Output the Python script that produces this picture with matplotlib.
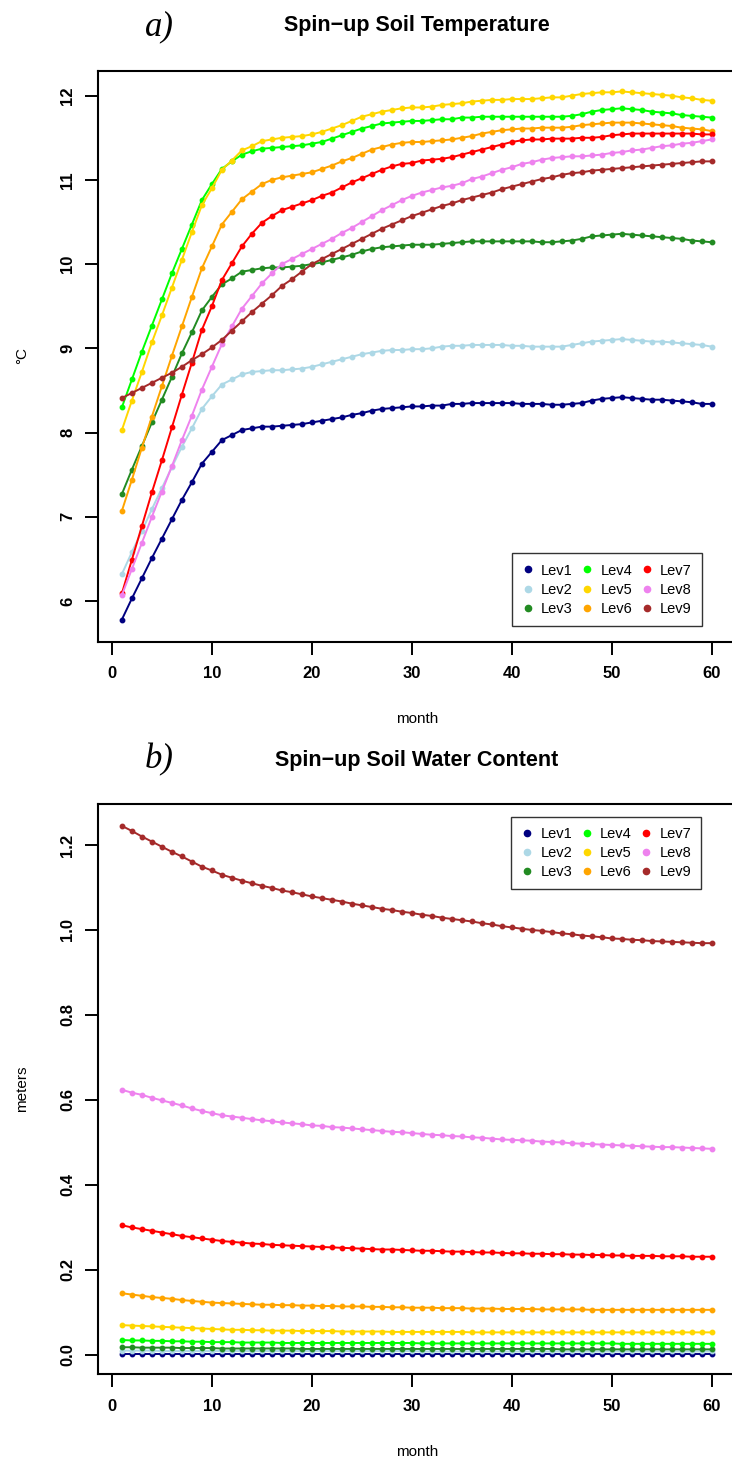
import matplotlib
matplotlib.use("Agg")
import matplotlib.pyplot as plt
from matplotlib.lines import Line2D

plt.rcParams['font.family'] = ['Liberation Sans', 'DejaVu Sans']

month = list(range(1, 61))
levels = ["Lev1", "Lev2", "Lev3", "Lev4", "Lev5", "Lev6", "Lev7", "Lev8", "Lev9"]
colors = ["#000080", "#ADD8E6", "#228B22", "#00FF00", "#FFD700", "#FFA500", "#FF0000", "#EE82EE", "#A52A2A"]

# ---- soil temperature (deg C) ----
temp_lev1 = [5.78, 6.03, 6.27, 6.51, 6.74, 6.97, 7.20, 7.41, 7.63, 7.77,
             7.91, 7.97, 8.03, 8.05, 8.07, 8.07, 8.08, 8.09, 8.10, 8.12,
             8.14, 8.16, 8.18, 8.21, 8.23, 8.26, 8.28, 8.29, 8.30, 8.31,
             8.31, 8.32, 8.32, 8.34, 8.34, 8.35, 8.35, 8.35, 8.35, 8.35,
             8.34, 8.34, 8.34, 8.33, 8.33, 8.34, 8.35, 8.38, 8.40, 8.41,
             8.42, 8.41, 8.40, 8.39, 8.39, 8.38, 8.37, 8.36, 8.34, 8.34]
temp_lev2 = [6.32, 6.58, 6.83, 7.09, 7.34, 7.59, 7.83, 8.05, 8.28, 8.43,
             8.57, 8.63, 8.69, 8.72, 8.73, 8.74, 8.74, 8.75, 8.76, 8.78,
             8.81, 8.84, 8.87, 8.90, 8.93, 8.95, 8.97, 8.98, 8.98, 8.99,
             8.99, 9.00, 9.02, 9.03, 9.03, 9.04, 9.04, 9.04, 9.04, 9.03,
             9.03, 9.02, 9.02, 9.02, 9.02, 9.04, 9.06, 9.08, 9.09, 9.10,
             9.11, 9.10, 9.09, 9.08, 9.08, 9.07, 9.06, 9.05, 9.04, 9.02]
temp_lev3 = [7.27, 7.56, 7.84, 8.12, 8.39, 8.66, 8.94, 9.19, 9.45, 9.61,
             9.76, 9.83, 9.91, 9.93, 9.95, 9.96, 9.96, 9.97, 9.98, 10.00,
             10.02, 10.05, 10.08, 10.11, 10.15, 10.18, 10.20, 10.21, 10.22, 10.23,
             10.23, 10.23, 10.24, 10.25, 10.26, 10.27, 10.27, 10.27, 10.27, 10.27,
             10.27, 10.27, 10.26, 10.26, 10.27, 10.28, 10.30, 10.33, 10.34, 10.35,
             10.36, 10.35, 10.34, 10.33, 10.32, 10.31, 10.30, 10.28, 10.27, 10.26]
temp_lev4 = [8.30, 8.63, 8.96, 9.27, 9.58, 9.89, 10.18, 10.47, 10.76, 10.95,
             11.13, 11.22, 11.30, 11.34, 11.37, 11.38, 11.39, 11.40, 11.41, 11.43,
             11.45, 11.49, 11.53, 11.57, 11.61, 11.64, 11.67, 11.68, 11.69, 11.70,
             11.70, 11.71, 11.72, 11.72, 11.74, 11.74, 11.75, 11.75, 11.75, 11.75,
             11.75, 11.75, 11.75, 11.75, 11.75, 11.76, 11.78, 11.81, 11.83, 11.84,
             11.85, 11.84, 11.83, 11.81, 11.80, 11.79, 11.77, 11.76, 11.75, 11.74]
temp_lev5 = [8.03, 8.38, 8.72, 9.07, 9.39, 9.72, 10.05, 10.38, 10.70, 10.90,
             11.12, 11.23, 11.35, 11.40, 11.46, 11.48, 11.50, 11.51, 11.52, 11.54,
             11.57, 11.61, 11.65, 11.70, 11.75, 11.78, 11.81, 11.83, 11.85, 11.86,
             11.86, 11.87, 11.89, 11.90, 11.91, 11.93, 11.94, 11.95, 11.95, 11.96,
             11.96, 11.96, 11.97, 11.98, 11.98, 12.00, 12.02, 12.03, 12.04, 12.04,
             12.05, 12.04, 12.03, 12.02, 12.01, 12.00, 11.98, 11.97, 11.95, 11.94]
temp_lev6 = [7.07, 7.44, 7.82, 8.19, 8.55, 8.91, 9.26, 9.61, 9.95, 10.21,
             10.47, 10.62, 10.77, 10.86, 10.95, 11.00, 11.03, 11.05, 11.07, 11.09,
             11.13, 11.17, 11.22, 11.26, 11.31, 11.36, 11.39, 11.42, 11.44, 11.45,
             11.45, 11.46, 11.47, 11.48, 11.50, 11.52, 11.55, 11.57, 11.59, 11.60,
             11.61, 11.61, 11.62, 11.62, 11.62, 11.63, 11.65, 11.66, 11.67, 11.68,
             11.68, 11.68, 11.67, 11.66, 11.65, 11.64, 11.62, 11.61, 11.60, 11.58]
temp_lev7 = [6.09, 6.49, 6.89, 7.29, 7.67, 8.06, 8.45, 8.83, 9.22, 9.50,
             9.81, 10.01, 10.21, 10.36, 10.49, 10.57, 10.64, 10.68, 10.72, 10.76,
             10.81, 10.85, 10.91, 10.97, 11.02, 11.07, 11.12, 11.16, 11.19, 11.20,
             11.23, 11.24, 11.25, 11.27, 11.30, 11.33, 11.36, 11.39, 11.42, 11.45,
             11.47, 11.48, 11.48, 11.49, 11.49, 11.49, 11.50, 11.50, 11.51, 11.53,
             11.54, 11.55, 11.55, 11.55, 11.55, 11.55, 11.55, 11.55, 11.54, 11.54]
temp_lev8 = [6.07, 6.38, 6.69, 7.00, 7.30, 7.60, 7.91, 8.20, 8.51, 8.78,
             9.05, 9.26, 9.47, 9.62, 9.77, 9.89, 10.00, 10.06, 10.12, 10.18,
             10.24, 10.30, 10.37, 10.43, 10.50, 10.57, 10.64, 10.70, 10.76, 10.81,
             10.85, 10.88, 10.91, 10.93, 10.96, 11.01, 11.04, 11.08, 11.12, 11.15,
             11.19, 11.21, 11.24, 11.26, 11.27, 11.28, 11.28, 11.29, 11.30, 11.32,
             11.33, 11.35, 11.36, 11.38, 11.40, 11.41, 11.43, 11.44, 11.46, 11.48]
temp_lev9 = [8.41, 8.47, 8.53, 8.59, 8.65, 8.71, 8.78, 8.86, 8.93, 9.01,
             9.10, 9.21, 9.32, 9.43, 9.53, 9.63, 9.74, 9.82, 9.91, 10.00,
             10.06, 10.12, 10.18, 10.24, 10.30, 10.36, 10.42, 10.47, 10.52, 10.57,
             10.61, 10.65, 10.69, 10.72, 10.76, 10.79, 10.82, 10.85, 10.89, 10.92,
             10.95, 10.98, 11.01, 11.03, 11.06, 11.08, 11.09, 11.11, 11.12, 11.13,
             11.14, 11.15, 11.16, 11.17, 11.18, 11.19, 11.20, 11.21, 11.22, 11.22]

# ---- soil water content (meters) ----
water_lev1 = [0.002, 0.002, 0.002, 0.002, 0.002, 0.002, 0.002, 0.002, 0.002, 0.002,
              0.002, 0.002, 0.002, 0.002, 0.002, 0.002, 0.002, 0.002, 0.002, 0.002,
              0.002, 0.002, 0.002, 0.002, 0.002, 0.002, 0.002, 0.002, 0.002, 0.002,
              0.002, 0.002, 0.002, 0.002, 0.002, 0.002, 0.002, 0.002, 0.002, 0.002,
              0.002, 0.002, 0.002, 0.002, 0.002, 0.002, 0.002, 0.002, 0.002, 0.002,
              0.002, 0.002, 0.002, 0.002, 0.002, 0.002, 0.002, 0.002, 0.002, 0.002]
water_lev2 = [0.010, 0.010, 0.010, 0.010, 0.009, 0.009, 0.009, 0.009, 0.009, 0.009,
              0.009, 0.009, 0.009, 0.009, 0.009, 0.009, 0.009, 0.009, 0.009, 0.009,
              0.009, 0.009, 0.009, 0.009, 0.009, 0.009, 0.009, 0.009, 0.009, 0.009,
              0.008, 0.008, 0.008, 0.008, 0.008, 0.008, 0.008, 0.008, 0.008, 0.008,
              0.008, 0.008, 0.008, 0.008, 0.008, 0.008, 0.008, 0.008, 0.008, 0.008,
              0.008, 0.008, 0.008, 0.008, 0.008, 0.008, 0.008, 0.008, 0.008, 0.008]
water_lev3 = [0.018, 0.018, 0.017, 0.017, 0.017, 0.017, 0.016, 0.016, 0.016, 0.016,
              0.015, 0.015, 0.015, 0.015, 0.015, 0.015, 0.015, 0.015, 0.014, 0.014,
              0.014, 0.014, 0.014, 0.014, 0.014, 0.014, 0.014, 0.014, 0.014, 0.014,
              0.014, 0.014, 0.014, 0.014, 0.014, 0.014, 0.014, 0.014, 0.014, 0.014,
              0.014, 0.014, 0.014, 0.014, 0.013, 0.013, 0.013, 0.013, 0.013, 0.013,
              0.013, 0.013, 0.013, 0.013, 0.013, 0.013, 0.013, 0.013, 0.013, 0.013]
water_lev4 = [0.035, 0.034, 0.034, 0.033, 0.033, 0.032, 0.032, 0.031, 0.031, 0.030,
              0.030, 0.030, 0.029, 0.029, 0.029, 0.029, 0.028, 0.028, 0.028, 0.028,
              0.028, 0.028, 0.028, 0.028, 0.028, 0.028, 0.028, 0.028, 0.028, 0.028,
              0.027, 0.027, 0.027, 0.027, 0.027, 0.027, 0.027, 0.027, 0.027, 0.027,
              0.027, 0.027, 0.027, 0.027, 0.027, 0.027, 0.027, 0.027, 0.027, 0.027,
              0.026, 0.026, 0.026, 0.026, 0.026, 0.026, 0.026, 0.026, 0.026, 0.026]
water_lev5 = [0.070, 0.069, 0.068, 0.067, 0.066, 0.065, 0.064, 0.063, 0.062, 0.061,
              0.060, 0.059, 0.059, 0.058, 0.058, 0.057, 0.057, 0.057, 0.056, 0.056,
              0.056, 0.056, 0.055, 0.055, 0.055, 0.055, 0.055, 0.054, 0.054, 0.054,
              0.054, 0.054, 0.054, 0.054, 0.054, 0.053, 0.053, 0.053, 0.053, 0.053,
              0.053, 0.053, 0.053, 0.053, 0.053, 0.053, 0.053, 0.053, 0.053, 0.053,
              0.053, 0.053, 0.053, 0.053, 0.053, 0.053, 0.053, 0.053, 0.053, 0.053]
water_lev6 = [0.145, 0.142, 0.139, 0.136, 0.134, 0.132, 0.129, 0.127, 0.125, 0.123,
              0.122, 0.121, 0.120, 0.119, 0.118, 0.118, 0.117, 0.117, 0.116, 0.116,
              0.115, 0.115, 0.114, 0.114, 0.114, 0.113, 0.113, 0.112, 0.112, 0.111,
              0.111, 0.111, 0.110, 0.110, 0.110, 0.109, 0.109, 0.109, 0.108, 0.108,
              0.108, 0.108, 0.107, 0.107, 0.107, 0.107, 0.107, 0.106, 0.106, 0.106,
              0.106, 0.106, 0.106, 0.106, 0.106, 0.106, 0.106, 0.106, 0.106, 0.106]
water_lev7 = [0.305, 0.300, 0.296, 0.292, 0.288, 0.284, 0.280, 0.277, 0.274, 0.271,
              0.268, 0.266, 0.264, 0.262, 0.261, 0.259, 0.258, 0.257, 0.256, 0.255,
              0.254, 0.253, 0.252, 0.251, 0.250, 0.249, 0.248, 0.248, 0.247, 0.246,
              0.245, 0.245, 0.244, 0.243, 0.243, 0.242, 0.241, 0.241, 0.240, 0.239,
              0.239, 0.238, 0.238, 0.237, 0.237, 0.236, 0.236, 0.235, 0.235, 0.234,
              0.234, 0.233, 0.233, 0.233, 0.232, 0.232, 0.232, 0.231, 0.231, 0.231]
water_lev8 = [0.624, 0.617, 0.612, 0.605, 0.599, 0.593, 0.587, 0.580, 0.574, 0.569,
              0.564, 0.561, 0.558, 0.555, 0.552, 0.550, 0.547, 0.545, 0.543, 0.540,
              0.539, 0.536, 0.535, 0.533, 0.531, 0.529, 0.527, 0.525, 0.524, 0.522,
              0.520, 0.518, 0.517, 0.515, 0.514, 0.512, 0.511, 0.509, 0.507, 0.506,
              0.505, 0.504, 0.502, 0.501, 0.500, 0.498, 0.497, 0.496, 0.495, 0.494,
              0.493, 0.492, 0.491, 0.490, 0.489, 0.489, 0.488, 0.487, 0.486, 0.485]
water_lev9 = [1.245, 1.233, 1.220, 1.208, 1.196, 1.184, 1.173, 1.161, 1.149, 1.140,
              1.130, 1.123, 1.116, 1.110, 1.104, 1.099, 1.093, 1.089, 1.084, 1.079,
              1.075, 1.071, 1.067, 1.062, 1.058, 1.054, 1.050, 1.047, 1.043, 1.040,
              1.036, 1.033, 1.029, 1.026, 1.023, 1.020, 1.016, 1.013, 1.009, 1.006,
              1.003, 1.000, 0.998, 0.995, 0.992, 0.990, 0.987, 0.985, 0.983, 0.980,
              0.979, 0.977, 0.976, 0.974, 0.973, 0.972, 0.971, 0.970, 0.969, 0.969]

temp_series = [temp_lev1, temp_lev2, temp_lev3, temp_lev4, temp_lev5,
               temp_lev6, temp_lev7, temp_lev8, temp_lev9]
water_series = [water_lev1, water_lev2, water_lev3, water_lev4, water_lev5,
                water_lev6, water_lev7, water_lev8, water_lev9]

x_ticks = [0, 10, 20, 30, 40, 50, 60]
temp_ticks = [6, 7, 8, 9, 10, 11, 12]
water_ticks = [0.0, 0.2, 0.4, 0.6, 0.8, 1.0, 1.2]
water_ticklabels = ["0.0", "0.2", "0.4", "0.6", "0.8", "1.0", "1.2"]

W, H = 732, 1466
fig = plt.figure(figsize=(W / 100, H / 100), dpi=100)


def px_axes(left, top, right, bottom):
    return fig.add_axes([left / W, 1 - bottom / H, (right - left) / W, (bottom - top) / H])


ax1 = px_axes(98.3, 71, 735.3, 642)
ax2 = px_axes(98.3, 804, 735.3, 1374.3)


def style_axis(ax):
    for s in ax.spines.values():
        s.set_linewidth(1.5)
        s.set_color("black")
    ax.tick_params(axis="both", direction="out", length=9.5, width=1.4,
                   colors="black", labelsize=12)
    ax.tick_params(axis="x", pad=8)
    ax.tick_params(axis="y", pad=7)
    ax.set_xlim(-1.36, 62.36)
    ax.set_xticks(x_ticks)
    ax.set_xticklabels([str(v) for v in x_ticks], fontweight="bold")


for ys, c in zip(temp_series, colors):
    ax1.plot(month, ys, color=c, lw=1.4, marker="o", ms=3.2, mec=c, mfc=c, clip_on=False)
ax1.set_ylim(5.513, 12.293)
ax1.set_yticks(temp_ticks)
ax1.set_yticklabels([str(v) for v in temp_ticks], fontweight="bold")
style_axis(ax1)

for ys, c in zip(water_series, colors):
    ax2.plot(month, ys, color=c, lw=1.4, marker="o", ms=3.2, mec=c, mfc=c, clip_on=False)
ax2.set_ylim(-0.0457, 1.2965)
ax2.set_yticks(water_ticks)
ax2.set_yticklabels(water_ticklabels, fontweight="bold")
style_axis(ax2)

for ax in (ax1, ax2):
    for lab in ax.get_yticklabels():
        lab.set_verticalalignment("center")
        lab.set_rotation(90)

handles = [Line2D([], [], ls="none", marker="o", ms=4.5, color=c) for c in colors]


def add_legend(ax, loc, anchor):
    leg = ax.legend(handles, levels, ncol=3, loc=loc, bbox_to_anchor=anchor,
                    fontsize=10.5, frameon=True, fancybox=False, edgecolor="black",
                    handlelength=0.8, handletextpad=0.5, columnspacing=0.6,
                    labelspacing=0.35, borderpad=0.7, borderaxespad=0.0)
    leg.get_frame().set_linewidth(1.0)
    return leg


add_legend(ax1, "lower right", (0.9475, 0.028))
add_legend(ax2, "upper right", (0.9468, 0.9777))

cx = (98.3 + 735.3) / 2
fig.text(cx / W, 1 - 26 / H, "Spin\u2212up Soil Temperature", ha="center", va="center",
         fontsize=15.5, fontweight="bold")
fig.text(cx / W, 1 - 760 / H, "Spin\u2212up Soil Water Content", ha="center", va="center",
         fontsize=15.5, fontweight="bold")
fig.text(159 / W, 1 - 27 / H, "a)", ha="center", va="center", fontsize=25,
         family="Liberation Serif", style="italic")
fig.text(159 / W, 1 - 760 / H, "b)", ha="center", va="center", fontsize=25,
         family="Liberation Serif", style="italic")
fig.text(cx / W, 1 - 719 / H, "month", ha="center", va="center", fontsize=11)
fig.text(cx / W, 1 - 1452 / H, "month", ha="center", va="center", fontsize=11)
fig.text(22 / W, 1 - 356 / H, "\u00b0C", ha="center", va="center", fontsize=11, rotation=90)
fig.text(22 / W, 1 - 1089 / H, "meters", ha="center", va="center", fontsize=11, rotation=90)

fig.savefig("out.png", dpi=100)
